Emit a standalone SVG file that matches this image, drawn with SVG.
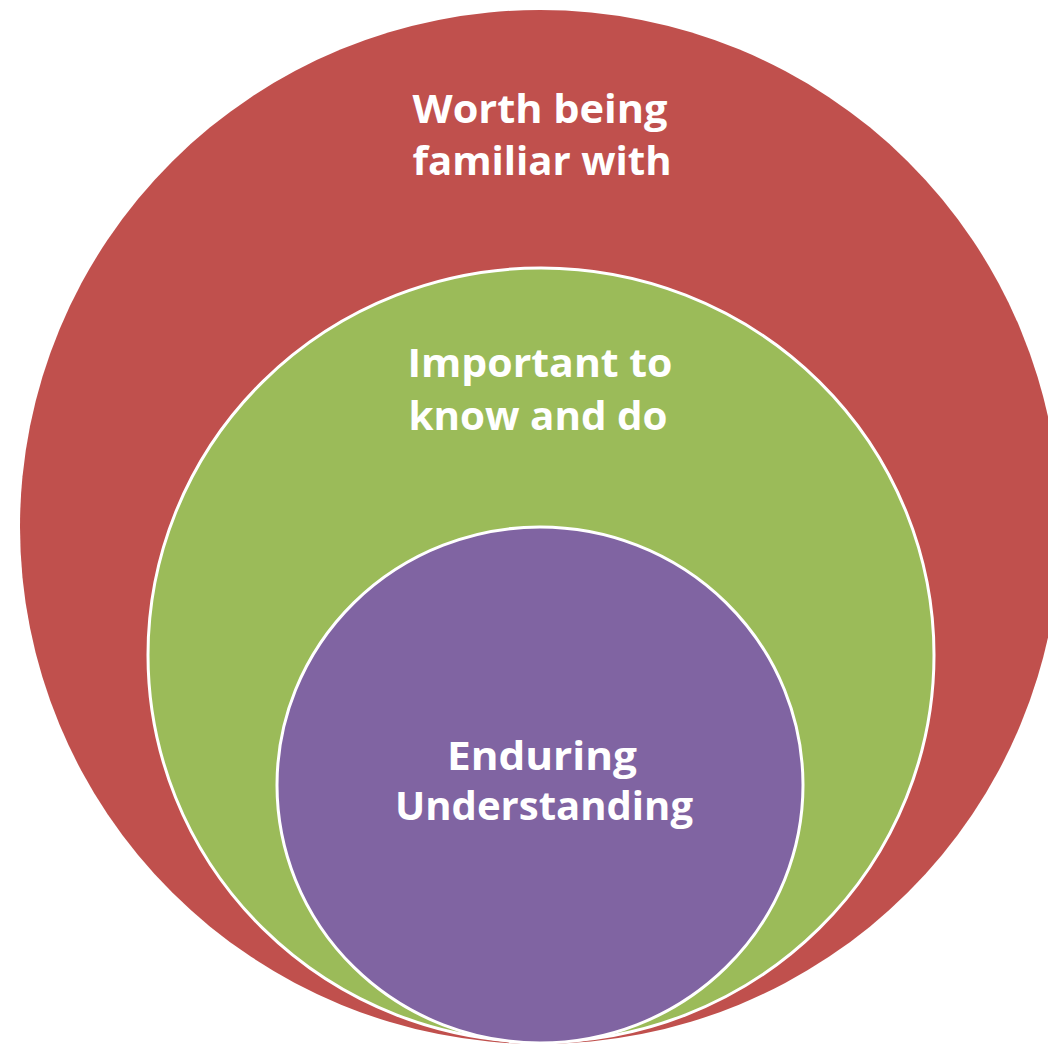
<svg xmlns="http://www.w3.org/2000/svg" width="1048" height="1046" viewBox="0 0 1048 1046">
  <style>
    .lbl { font-family: "Open Sans", "Liberation Sans", sans-serif; font-weight: bold; font-size: 40px; fill: #ffffff; text-anchor: middle; }
    .ring { stroke: #ffffff; stroke-width: 3; }
  </style>
  <rect width="1048" height="1046" fill="#ffffff"/>
  <g id="outer">
    <ellipse cx="540" cy="527" rx="520" ry="517" fill="#C0504D"/>
    <text class="lbl" x="540" y="123" textLength="255" lengthAdjust="spacingAndGlyphs">Worth being</text>
    <text class="lbl" x="542" y="175" textLength="259" lengthAdjust="spacingAndGlyphs">familiar with</text>
  </g>
  <g id="middle">
    <ellipse class="ring" cx="541" cy="655" rx="393" ry="387" fill="#9BBB59"/>
    <text class="lbl" x="540" y="377" textLength="265" lengthAdjust="spacingAndGlyphs">Important to</text>
    <text class="lbl" x="538" y="430" textLength="259" lengthAdjust="spacingAndGlyphs">know and do</text>
  </g>
  <g id="inner">
    <ellipse class="ring" cx="540" cy="785" rx="263" ry="258" fill="#8064A2"/>
    <text class="lbl" x="542" y="770" textLength="190" lengthAdjust="spacingAndGlyphs">Enduring</text>
    <text class="lbl" x="544" y="820" textLength="298" lengthAdjust="spacingAndGlyphs">Understanding</text>
  </g>
  <g id="connectors"/>
</svg>
